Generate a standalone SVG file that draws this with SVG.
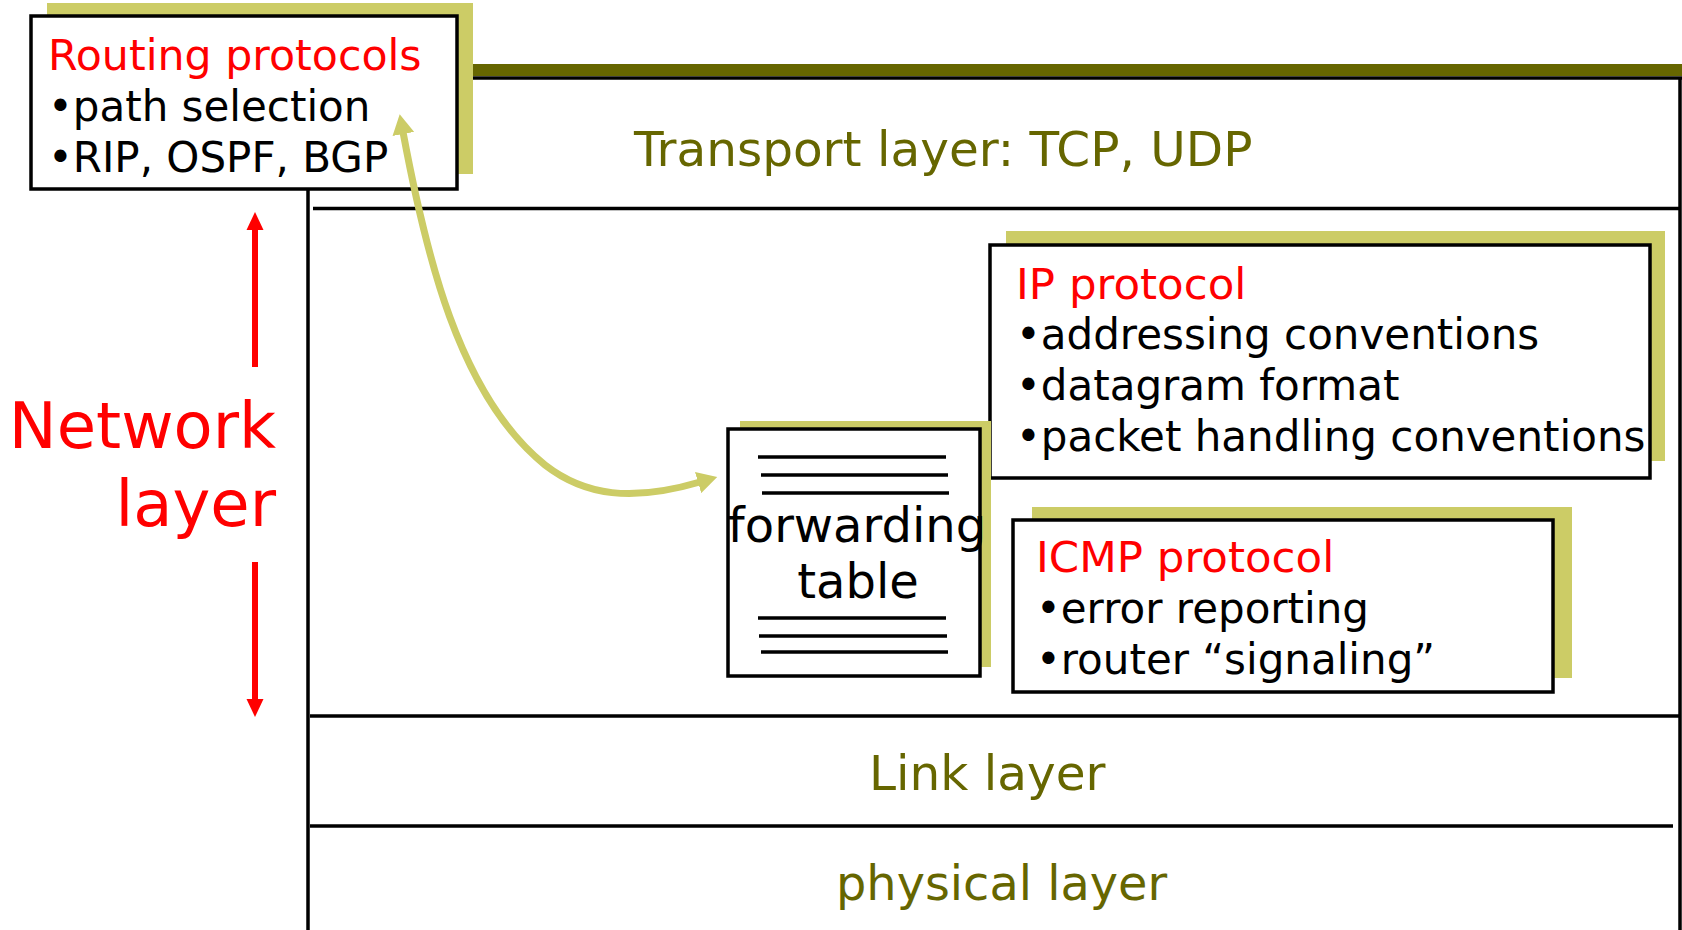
<svg xmlns="http://www.w3.org/2000/svg" width="1682" height="930" viewBox="0 0 1682 930">
  <style>
    text { font-family: "DejaVu Sans", Verdana, sans-serif; }
    .box { fill: #ffffff; stroke: #000000; stroke-width: 3.5; }
    .shadow { fill: #cccc66; }
    .rule { stroke: #000000; stroke-width: 3.5; fill: none; }
    .layer { fill: #666600; font-size: 48.5px; }
    .title { fill: #ff0000; font-size: 43.5px; }
    .item { fill: #000000; font-size: 42px; }
    .ft { fill: #000000; font-size: 48px; text-anchor: middle; }
    .tline { stroke: #000000; stroke-width: 3.5; }
    .side { fill: #ff0000; font-size: 64px; text-anchor: end; }
  </style>
  <defs>
    <marker id="head" markerUnits="userSpaceOnUse" viewBox="0 0 22 22" markerWidth="22" markerHeight="22" refX="2" refY="11" orient="auto-start-reverse">
      <path d="M0,0 L20,11 L0,22 z" fill="#cccc66"/>
    </marker>
  </defs>

  <!-- protocol stack frame -->
  <g id="stack">
    <rect x="440" y="64" width="1242" height="12" fill="#666600"/>
    <line class="rule" x1="440" y1="78" x2="1682" y2="78" stroke-width="4"/>
    <line class="rule" x1="1680" y1="78" x2="1680" y2="930"/>
    <line class="rule" x1="308" y1="120" x2="308" y2="930"/>
    <line class="rule" x1="313" y1="208.5" x2="1680" y2="208.5"/>
    <line class="rule" x1="310" y1="716" x2="1680" y2="716"/>
    <line class="rule" x1="310" y1="826" x2="1673" y2="826"/>
    <text class="layer" x="634" y="166">Transport layer: TCP, UDP</text>
    <text class="layer" x="869" y="790">Link layer</text>
    <text class="layer" x="836" y="900" style="font-size:47.8px">physical layer</text>
  </g>

  <!-- routing protocols -->
  <g id="routing">
    <rect class="shadow" x="47" y="3" width="426" height="171"/>
    <rect class="box" x="31" y="16" width="426" height="173"/>
    <text class="title" x="48" y="70" style="font-size:42.7px">Routing protocols</text>
    <text class="item" x="48" y="121">•path selection</text>
    <text class="item" x="48" y="172">•RIP, OSPF, BGP</text>
  </g>

  <!-- network layer label -->
  <g id="network-label">
    <line x1="255" y1="228" x2="255" y2="367" stroke="#ff0000" stroke-width="6"/>
    <polygon points="255,212 246.5,230 263.5,230" fill="#ff0000"/>
    <line x1="255" y1="562" x2="255" y2="701" stroke="#ff0000" stroke-width="6"/>
    <polygon points="255,717 246.5,699 263.5,699" fill="#ff0000"/>
    <text class="side" x="276" y="448">Network</text>
    <text class="side" x="276" y="526">layer</text>
  </g>

  <!-- IP protocol -->
  <g id="ip">
    <rect class="shadow" x="1006" y="231" width="659" height="230"/>
    <rect class="box" x="990" y="245" width="660" height="233"/>
    <text class="title" x="1016" y="299">IP protocol</text>
    <text class="item" x="1016" y="349">•addressing conventions</text>
    <text class="item" x="1016" y="400">•datagram format</text>
    <text class="item" x="1016" y="451">•packet handling conventions</text>
  </g>

  <!-- ICMP protocol -->
  <g id="icmp">
    <rect class="shadow" x="1032" y="507" width="540" height="171"/>
    <rect class="box" x="1013" y="520" width="540" height="172"/>
    <text class="title" x="1036" y="572">ICMP protocol</text>
    <text class="item" x="1036" y="623">•error reporting</text>
    <text class="item" x="1036" y="674">•router “signaling”</text>
  </g>

  <!-- forwarding table -->
  <g id="forwarding-table">
    <rect class="shadow" x="740" y="421" width="251" height="246"/>
    <rect class="box" x="728" y="429" width="252" height="247"/>
    <line class="tline" x1="758" y1="457" x2="946" y2="457"/>
    <line class="tline" x1="761" y1="475" x2="948" y2="475"/>
    <line class="tline" x1="762" y1="493" x2="949" y2="493"/>
    <text class="ft" x="857" y="542">forwarding</text>
    <text class="ft" x="858" y="598">table</text>
    <line class="tline" x1="758" y1="618" x2="946" y2="618"/>
    <line class="tline" x1="759" y1="636" x2="947" y2="636"/>
    <line class="tline" x1="761" y1="652" x2="948" y2="652"/>
  </g>

  <!-- connectors -->
  <g id="connectors">
    <path d="M403,132 C425,250 458,395 545,465 C585,496 632,502 700,482" fill="none" stroke="#cccc66" stroke-width="7" marker-start="url(#head)" marker-end="url(#head)"/>
  </g>
</svg>
